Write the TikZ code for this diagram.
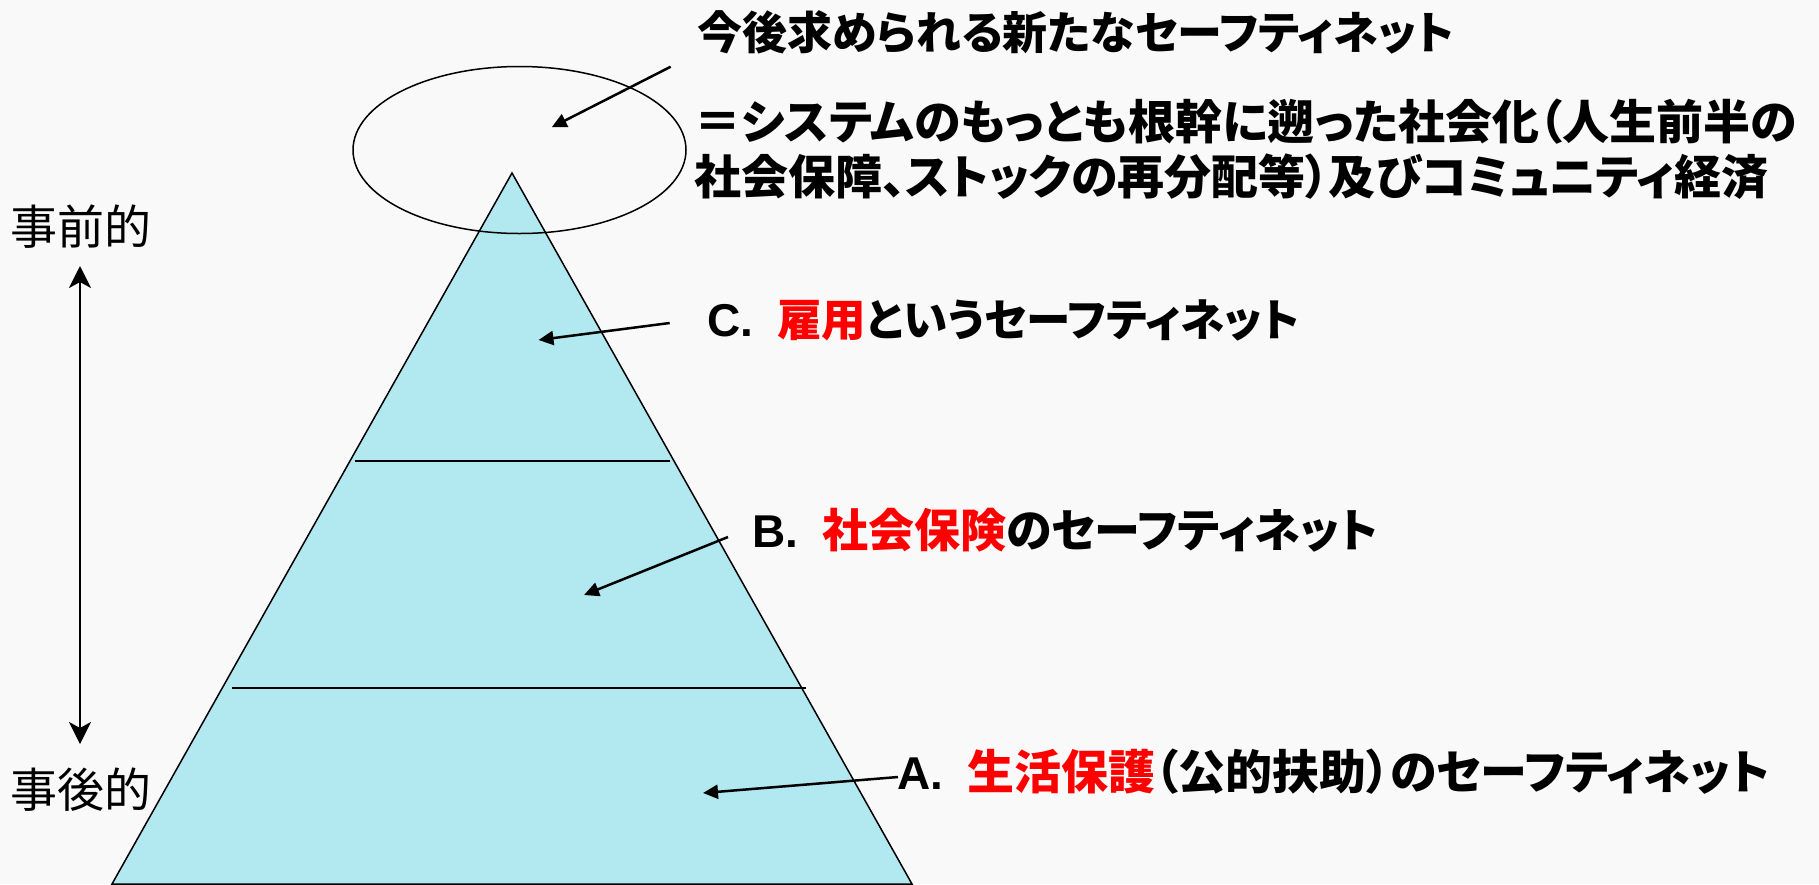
\documentclass[tikz,border=0pt]{standalone}
\usepackage{fontspec}
\usetikzlibrary{arrows.meta,shapes.geometric}
\newfontfamily\jp[RawFeature=+palt]{Noto Sans CJK JP}
\newfontfamily\jpn{Noto Sans CJK JP}
\newfontfamily\lat{Liberation Sans}
\definecolor{bgc}{RGB}{249,249,249}
\definecolor{pyr}{RGB}{178,232,240}
\definecolor{hl}{RGB}{255,0,0}
\tikzset{
  toptext/.style={anchor=west, inner sep=0pt, font=\jp\bfseries\fontsize{45}{50}\selectfont},
  topwide/.style={anchor=west, inner sep=0pt, font=\jp\bfseries\fontsize{47}{50}\selectfont},
  lbl/.style={anchor=west, inner sep=0pt, font=\jp\bfseries\fontsize{46}{50}\selectfont},
  side/.style={anchor=west, inner sep=0pt, font=\jpn\fontsize{47}{50}\selectfont},
  ptr/.style={line width=2.5pt, -{Triangle[length=15pt,width=14pt]}},
  dbl/.style={line width=2.5pt, {Stealth[length=22pt,width=22pt,inset=6pt]}-{Stealth[length=22pt,width=22pt,inset=6pt]}},
  edge/.style={line width=1.5pt},
  divider/.style={line width=2.5pt}
}
\newcommand{\lvltag}[1]{\makebox[70pt][l]{\lat\bfseries\fontsize{46}{50}\selectfont #1}}
\begin{document}
\begin{tikzpicture}[x=1pt,y=-1pt]
\fill[bgc] (0,0) rectangle (1819,884);
\useasboundingbox (0,0) rectangle (1819,884);
% pyramid
\coordinate (apex) at (512,173);
\coordinate (bl) at (112,884);
\coordinate (br) at (912,884);
\filldraw[fill=pyr, draw=black, edge] (apex) -- (bl) -- (br) -- cycle;
\coordinate (d1l) at (355,461);
\coordinate (d1r) at (670,461);
\coordinate (d2l) at (232,688);
\coordinate (d2r) at (806,688);
\draw[divider] (d1l) -- (d1r);
\draw[divider] (d2l) -- (d2r);
% ellipse
\node[draw=black, line width=1.5pt, ellipse, minimum width=333pt, minimum height=167pt, inner sep=0pt] (ell) at (519.5,150) {};
% top text
\node[toptext] (t1) at (697,32) {今後求められる新たなセーフティネット};
\node[topwide] (t2) at (694,122) {＝システムのもっとも根幹に遡った社会化（人生前半の};
\node[topwide] (t3) at (694,177) {社会保障、ストックの再分配等）及びコミュニティ経済};
% level labels
\node[lbl, font=\jp\bfseries\fontsize{44.5}{50}\selectfont] (lc) at (707,320) {\lvltag{C.}\textcolor{hl}{雇用}というセーフティネット};
\node[lbl] (lb) at (752,530) {\lvltag{B.}\textcolor{hl}{社会保険}のセーフティネット};
\node[lbl, font=\jp\bfseries\fontsize{47}{50}\selectfont] (la) at (897,772) {\lvltag{A.}\textcolor{hl}{生活保護}（公的扶助）のセーフティネット};
% side labels
\node[side] (pre) at (10,227) {事前的};
\node[side] (post) at (10,790) {事後的};
% arrows
\coordinate (es) at (670.7,66.7);
\coordinate (ee) at (551.7,127.3);
\draw[ptr] (es) -- (ee);
\coordinate (cs) at (669.7,323);
\coordinate (ce) at (538.5,340);
\draw[ptr] (cs) -- (ce);
\coordinate (bs) at (728,537);
\coordinate (be) at (584,595);
\draw[ptr] (bs) -- (be);
\coordinate (as) at (898,777);
\coordinate (ae) at (703,793);
\draw[ptr] (as) -- (ae);
\coordinate (vt) at (80,266);
\coordinate (vb) at (80,744);
\draw[dbl] (vt) -- (vb);
\end{tikzpicture}
\end{document}
